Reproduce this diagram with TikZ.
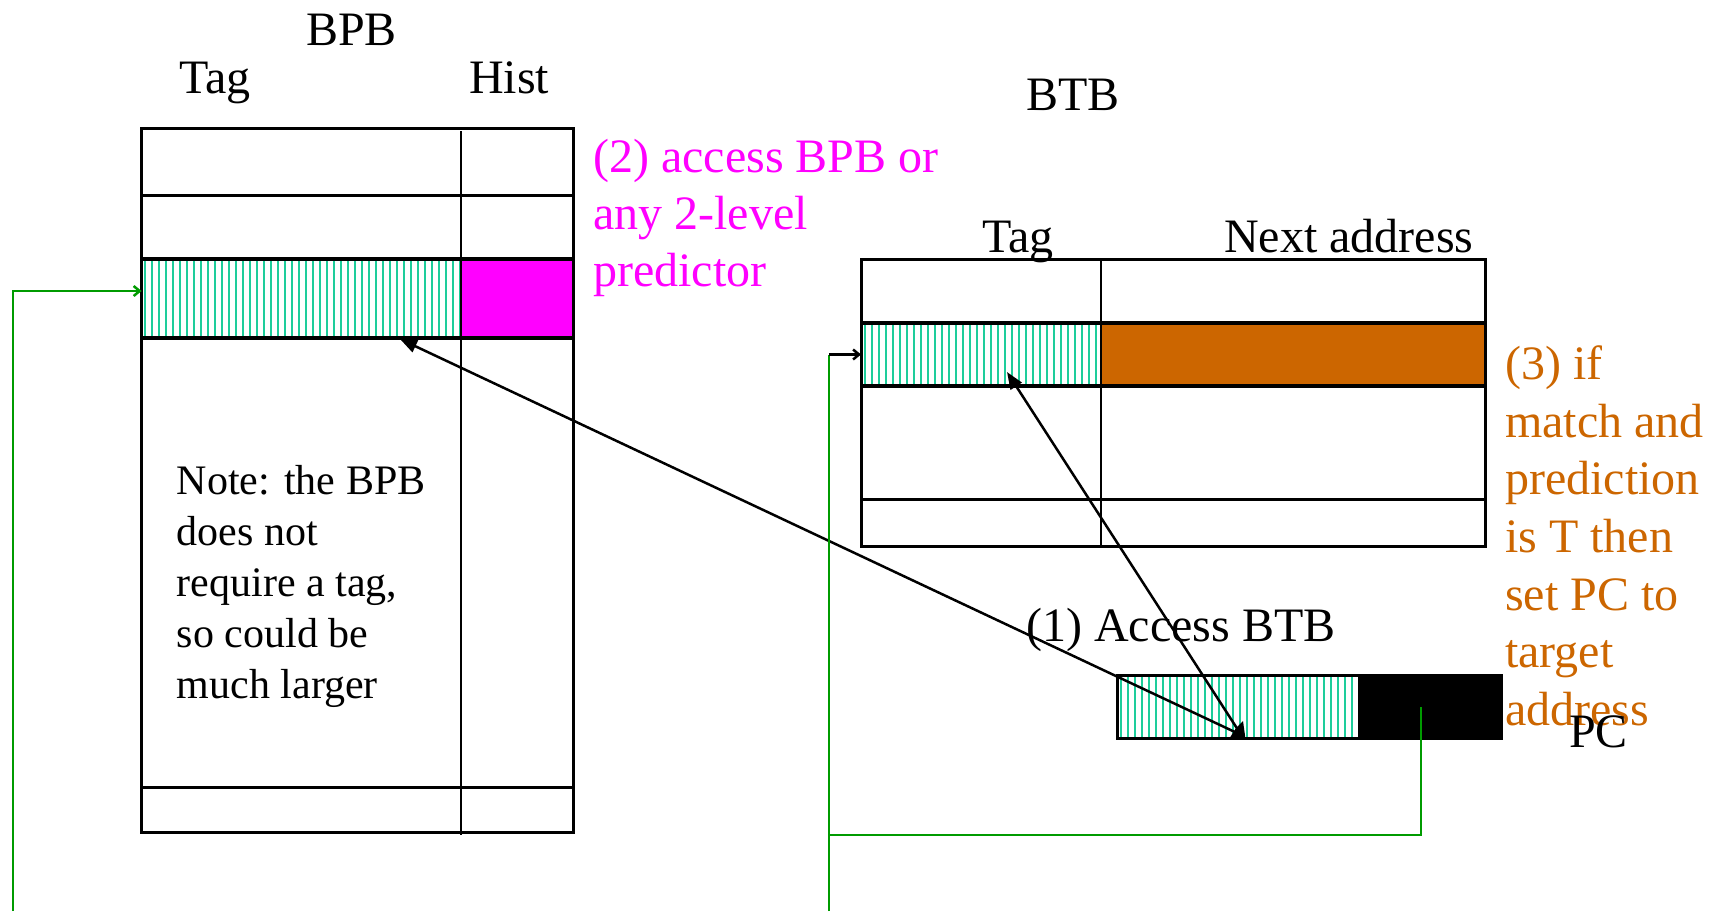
\documentclass[tikz,border=0pt]{standalone}
\usepackage{fontspec}
\setmainfont{Liberation Serif}
\usetikzlibrary{arrows.meta}
\definecolor{hatchteal}{RGB}{30,205,155}
\definecolor{tgtorange}{RGB}{204,102,0}
\definecolor{wiregreen}{RGB}{0,155,0}
\definecolor{bpbpink}{RGB}{255,0,255}

% vertical line hatching inside a rectangle: x0 y0 x1 y1
\newcommand{\vhatch}[4]{%
  \begin{scope}
    \clip (#1,#2) rectangle (#3,#4);
    \fill[white] (#1,#2) rectangle (#3,#4);
    \foreach \hx in {0,7,...,420}
      \draw[hatch] ({#1+3.5+\hx},#2) -- ({#1+3.5+\hx},#4);
  \end{scope}}

\begin{document}
\begin{tikzpicture}[x=1pt,y=-1pt,
  lbl/.style={anchor=base west, inner sep=0pt, font=\fontsize{48}{57.6}\selectfont},
  notelbl/.style={anchor=base west, inner sep=0pt, font=\fontsize{42}{51}\selectfont},
  frame/.style={line width=3pt, black},
  rowedge/.style={line width=4pt, black},
  divider/.style={line width=2.6pt, black},
  hatch/.style={hatchteal, line width=2pt},
  wire/.style={wiregreen, line width=2.5pt},
  ptr/.style={line width=2.5pt, black, -{Triangle[length=17pt,width=13pt]}},
  feed/.style={-{Straight Barb[length=6pt,width=10pt]}},
]
\useasboundingbox (0,0) rectangle (1721,911);

% ---------------- BPB table ----------------
\node[lbl] (bpbtitle) at (306,45) {BPB};
\node[lbl] (bpbtaghd) at (179,93) {Tag};
\node[lbl] (bpbhisthd) at (469,93) {Hist};

\vhatch{141.6}{259}{461}{338}
\fill[bpbpink] (461,259) rectangle (573,338);
\draw[frame] (141.6,128.4) rectangle (573,832);
\draw[frame] (141.6,195.4) -- (573,195.4);
\draw[frame] (141.6,787) -- (573,787);
\draw[rowedge] (141.6,259) -- (573,259);
\draw[rowedge] (141.6,338) -- (573,338);
\draw[divider] (461,131) -- (461,835);
\coordinate (bpbin) at (141.6,291);
\coordinate (bpbhit) at (400,339);

\foreach \t/\yy [count=\i] in {{Note: the BPB}/494,{does not}/545,{require a tag,}/596,{so could be}/647,{much larger}/698}
  \node[notelbl] (note\i) at (176.7,\yy) {\t};

\foreach \t/\yy [count=\i] in {{(2) access BPB or}/172,{any 2-level}/229,{predictor}/286}
  \node[lbl, text=bpbpink] (step2l\i) at (593,\yy) {\t};

% ---------------- BTB table ----------------
\node[lbl] (btbtitle) at (1026,110) {BTB};
\node[lbl] (btbtaghd) at (982,252) {Tag};
\node[lbl] (btbnexthd) at (1224,252) {Next address};

\vhatch{861.6}{322.7}{1101}{386.4}
\fill[tgtorange] (1101,322.7) rectangle (1485,386.4);
\draw[frame] (861.6,259) rectangle (1485,546.6);
\draw[frame] (861.6,499.4) -- (1485,499.4);
\draw[rowedge] (861.6,322.7) -- (1485,322.7);
\draw[rowedge] (861.6,386.4) -- (1485,386.4);
\draw[divider] (1101,259) -- (1101,546.6);
\coordinate (btbin) at (861,354.5);
\coordinate (btbhit) at (1007,372);

\foreach \t/\yy [count=\i] in {{(3) if}/379,{match and}/437,{prediction}/494,{is T then}/552,{set PC to}/610,{target}/667,{address}/725}
  \node[lbl, text=tgtorange] (step3l\i) at (1505,\yy) {\t};

% ---------------- PC register ----------------
\vhatch{1117}{675}{1357.7}{738.7}
\fill[black] (1357.7,675) rectangle (1501.5,738.7);
\draw[frame] (1117,675) rectangle (1501.5,738.7);
\node[lbl] (pclbl) at (1569,747) {PC};
\node[lbl] (step1) at (1026,641) {(1) Access BTB};
\coordinate (pcsrcA) at (1237,733);
\coordinate (pcsrcB) at (1240,733);
\coordinate (pcout) at (1421,707);

% ---------------- lookups from the PC ----------------
\draw[ptr] (pcsrcA) -- (bpbhit);
\draw[ptr] (pcsrcB) -- (btbhit);
\fill[black] (1229,739) -- (1245.5,739) -- (1243,721) -- (1236,728) -- cycle;

% ---------------- next-PC feedback wires ----------------
\coordinate (leftfoot) at (13,911);
\coordinate (midfoot) at (829,911);
\coordinate (midturn) at (829,354.5);
\coordinate (pcjoin) at (829,835);
\draw[wire, feed] (leftfoot) |- (bpbin);
\draw[wire] (midfoot) -- (midturn);
\draw[line width=2.5pt, black, feed] (midturn) -- (btbin);
\draw[wire] (pcout) |- (pcjoin);
\end{tikzpicture}
\end{document}
